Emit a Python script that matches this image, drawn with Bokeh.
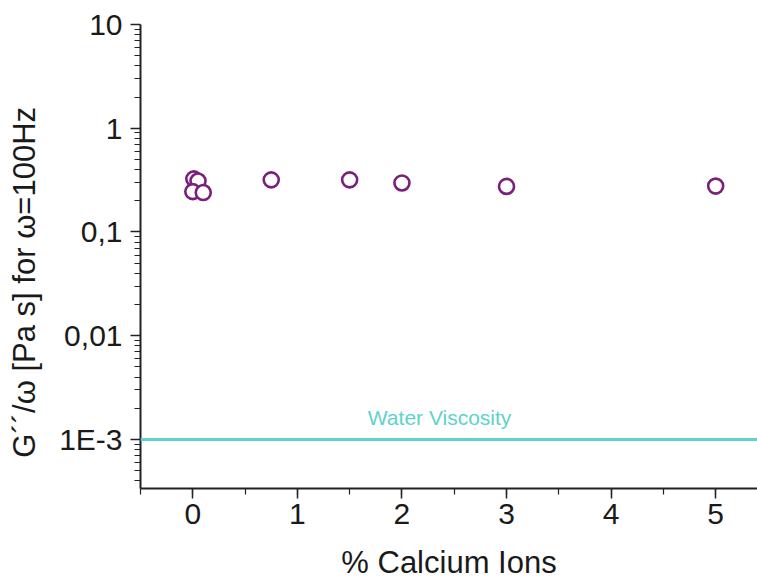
from bokeh.plotting import figure
from bokeh.models import (FixedTicker, SingleIntervalTicker, CustomJSTickFormatter,
                          Span, Label, ColumnDataSource)
from bokeh.embed import file_html
from bokeh.resources import INLINE

# ---- data ----
calcium_pct = [0.01, 0.05, 0.0, 0.1, 0.75, 1.5, 2.0, 3.0, 5.0]
g2_over_omega = [0.325, 0.31, 0.245, 0.24, 0.318, 0.318, 0.297, 0.275, 0.277]
water_viscosity = 0.001
water_label = "Water Viscosity"
water_label_x = 2.36
y_major = [1e-3, 1e-2, 1e-1, 1, 10]
y_tick_labels = ["1E-3", "0,01", "0,1", "1", "10"]
x_title = "% Calcium Ions"
y_title = "G´´/ω [Pa s] for ω=100Hz"

FONT = "Liberation Sans"
PURPLE = "#7a1f7c"
TURQ = "#5ed2ce"
AXIS_COL = "#222222"
TXT = "#1a1a1a"

X0, X1 = -0.5, 5.4
Y0, Y1 = 3.37e-4, 10

p = figure(width=757, height=582, output_backend="svg", toolbar_location=None,
           y_axis_type="log", x_range=(X0, X1), y_range=(Y0, Y1),
           min_border_left=140, min_border_right=0, min_border_top=24,
           min_border_bottom=94)
p.outline_line_color = None
p.grid.visible = False
p.background_fill_color = "white"
p.border_fill_color = "white"

# Water viscosity reference line
p.add_layout(Span(location=water_viscosity, dimension="width", line_color=TURQ,
                  line_width=3))
p.add_layout(Label(x=water_label_x, y=water_viscosity, text=water_label,
                   text_align="center", text_baseline="bottom", y_offset=10,
                   text_font=FONT, text_font_size="21px", text_color=TURQ))

src = ColumnDataSource(dict(x=calcium_pct, y=g2_over_omega))
p.scatter("x", "y", source=src, marker="circle", size=15, fill_color="white",
          line_color=PURPLE, line_width=2.6)

# minor ticks for log axis
minor = []
for e in range(-4, 1):
    for k in range(2, 10):
        minor.append(k * 10.0 ** e)

yax = p.yaxis[0]
yax.ticker = FixedTicker(ticks=y_major, minor_ticks=minor)
yax.formatter = CustomJSTickFormatter(args=dict(tv=y_major, tl=y_tick_labels), code="""
    for (let i = 0; i < tv.length; i++) {
        if (Math.abs(Math.log10(tv[i]) - Math.log10(tick)) < 1e-6) return tl[i];
    }
    return "";
""")
# trailing no-break spaces shift the centred title down, as in the reference
yax.axis_label = y_title + "\u00a0" * 6

xax = p.xaxis[0]
xax.ticker = SingleIntervalTicker(interval=1, num_minor_ticks=2)
xax.axis_label = x_title

for ax in (xax, yax):
    ax.axis_line_color = AXIS_COL
    ax.axis_line_width = 2
    ax.major_tick_line_color = AXIS_COL
    ax.minor_tick_line_color = AXIS_COL
    ax.major_tick_line_width = 1.5
    ax.minor_tick_line_width = 1.2
    ax.major_tick_out = 10
    ax.major_tick_in = 0
    ax.minor_tick_out = 6
    ax.minor_tick_in = 0
    ax.major_label_text_font = FONT
    ax.major_label_text_font_size = "30px"
    ax.major_label_text_color = TXT
    ax.axis_label_text_font = FONT
    ax.axis_label_text_font_size = "31px"
    ax.axis_label_text_font_style = "normal"
    ax.axis_label_text_color = TXT

yax.major_label_standoff = 8
yax.axis_label_standoff = 14
xax.major_label_standoff = 5
xax.axis_label_standoff = 18

open("out.html", "w").write(file_html(p, INLINE))
